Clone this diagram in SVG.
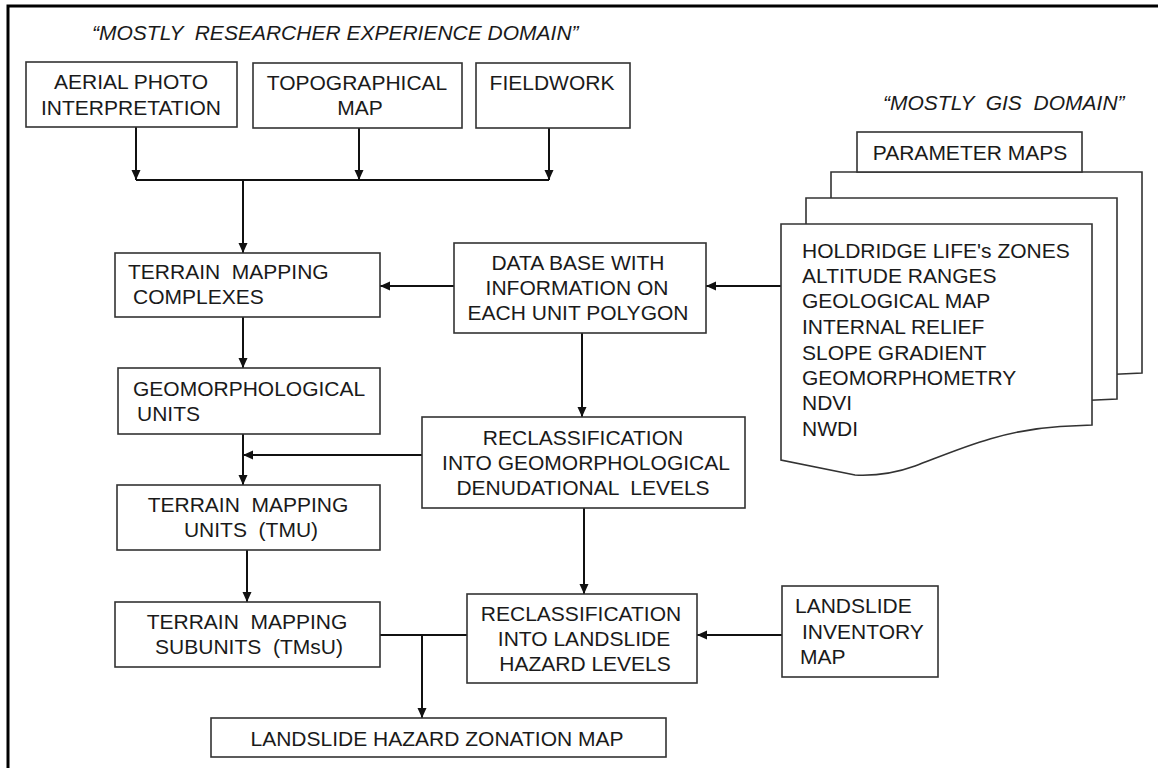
<svg xmlns="http://www.w3.org/2000/svg" width="1158" height="768" viewBox="0 0 1158 768">
<style>
text{font-family:"Liberation Sans",Arial,sans-serif;font-size:21px;fill:#1a1a1a;white-space:pre}
.t{font-style:italic}
.c{text-anchor:middle}
.box{fill:#fff;stroke:#333;stroke-width:1.6}
.ln{fill:none;stroke:#111;stroke-width:2}
.arr{marker-end:url(#ah)}
</style>
<defs>
<marker id="ah" markerUnits="userSpaceOnUse" markerWidth="10" markerHeight="10" refX="10" refY="5" orient="auto">
<path d="M0,0.5 L10,5 L0,9.5 z" fill="#111"/>
</marker>
<path id="page" d="M781,224 H1092 V425 L1060,426.5 C1000,430 955,451 915,466 C893,474 875,476 855,475 L781,460 Z" fill="#fff" stroke="#333" stroke-width="1.6"/>
</defs>
<rect width="1158" height="768" fill="#fff"/>
<path d="M8,768 V6 H1158" fill="none" stroke="#000" stroke-width="3"/>
<text class="t" x="92" y="40" xml:space="preserve">“MOSTLY  RESEARCHER EXPERIENCE DOMAIN”</text>
<text class="t" x="883" y="110" xml:space="preserve">“MOSTLY  GIS  DOMAIN”</text>
<g id="connectors">
<path class="ln arr" d="M136,127 V180"/>
<path class="ln arr" d="M359,128 V180"/>
<path class="ln arr" d="M549,128 V180"/>
<path class="ln" d="M136,180 H549"/>
<path class="ln arr" d="M243,180 V253"/>
<path class="ln arr" d="M454,286 H380"/>
<path class="ln arr" d="M781,286 H706"/>
<path class="ln arr" d="M243,317 V368"/>
<path class="ln arr" d="M582,333 V417"/>
<path class="ln arr" d="M422,455 H243"/>
<path class="ln arr" d="M243,434 V485"/>
<path class="ln arr" d="M247,550 V602"/>
<path class="ln arr" d="M584,508 V594"/>
<path class="ln" d="M380,635 H467"/>
<path class="ln arr" d="M422,635 V718"/>
<path class="ln arr" d="M782,635 H697"/>
</g>
<g id="aerial"><rect class="box" x="26" y="62" width="211" height="65"/>
<text class="c" x="131" y="89">AERIAL PHOTO</text><text class="c" x="131" y="115">INTERPRETATION</text></g>
<g id="topo"><rect class="box" x="253" y="63" width="209" height="65"/>
<text class="c" x="357" y="90">TOPOGRAPHICAL</text><text class="c" x="360" y="115">MAP</text></g>
<g id="fieldwork"><rect class="box" x="476" y="63" width="154" height="65"/>
<text class="c" x="552" y="90">FIELDWORK</text></g>
<g id="tmc"><rect class="box" x="115" y="253" width="265" height="64"/>
<text x="128" y="279" xml:space="preserve">TERRAIN  MAPPING</text><text x="133" y="304">COMPLEXES</text></g>
<g id="database"><rect class="box" x="454" y="243" width="252" height="90"/>
<text class="c" x="578" y="270">DATA BASE WITH</text><text class="c" x="577" y="295">INFORMATION ON</text><text class="c" x="578" y="320">EACH UNIT POLYGON</text></g>
<g id="gu"><rect class="box" x="118" y="368" width="262" height="66"/>
<text x="133" y="396">GEOMORPHOLOGICAL</text><text x="137" y="421">UNITS</text></g>
<g id="reclgeo"><rect class="box" x="422" y="417" width="323" height="91"/>
<text class="c" x="583" y="445">RECLASSIFICATION</text><text class="c" x="586" y="470">INTO GEOMORPHOLOGICAL</text><text class="c" x="583" y="495" xml:space="preserve">DENUDATIONAL  LEVELS</text></g>
<g id="tmu"><rect class="box" x="117" y="485" width="263" height="65"/>
<text class="c" x="248" y="512" xml:space="preserve">TERRAIN  MAPPING</text><text class="c" x="251" y="537" xml:space="preserve">UNITS  (TMU)</text></g>
<g id="tmsu"><rect class="box" x="115" y="602" width="265" height="65"/>
<text class="c" x="247" y="629" xml:space="preserve">TERRAIN  MAPPING</text><text class="c" x="249" y="654" xml:space="preserve">SUBUNITS  (TMsU)</text></g>
<g id="reclland"><rect class="box" x="467" y="594" width="230" height="89"/>
<text class="c" x="581" y="621">RECLASSIFICATION</text><text class="c" x="584" y="646">INTO LANDSLIDE</text><text class="c" x="585" y="671">HAZARD LEVELS</text></g>
<g id="lhzm"><rect class="box" x="211" y="718" width="455" height="39"/>
<text class="c" x="437" y="746">LANDSLIDE HAZARD ZONATION MAP</text></g>
<g id="inventory"><rect class="box" x="782" y="586" width="156" height="91"/>
<text x="795" y="613">LANDSLIDE</text><text x="802" y="639">INVENTORY</text><text x="800" y="664">MAP</text></g>
<g id="parammaps">
<use href="#page" transform="translate(50,-52)"/>
<use href="#page" transform="translate(25,-26)"/>
<use href="#page"/>
<rect class="box" x="857" y="132" width="225" height="40"/>
<text class="c" x="970" y="160">PARAMETER MAPS</text>
<text x="802" y="258">HOLDRIDGE LIFE's ZONES</text>
<text x="802" y="283">ALTITUDE RANGES</text>
<text x="802" y="308">GEOLOGICAL MAP</text>
<text x="802" y="334">INTERNAL RELIEF</text>
<text x="802" y="360">SLOPE GRADIENT</text>
<text x="802" y="385">GEOMORPHOMETRY</text>
<text x="802" y="410">NDVI</text>
<text x="802" y="436">NWDI</text>
</g>
</svg>
